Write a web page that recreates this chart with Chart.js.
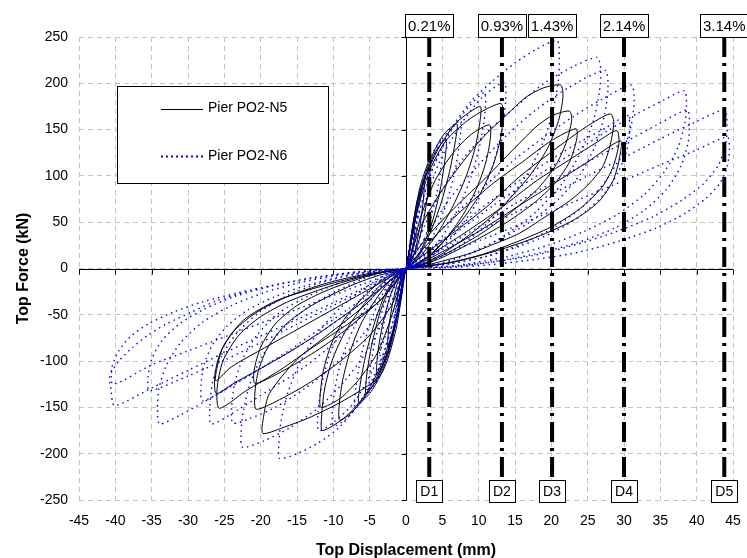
<!DOCTYPE html>
<html lang="en">
<head>
    <meta charset="utf-8" />
    <title>Pier PO2 hysteresis</title>
    <style>
        html, body { margin: 0; padding: 0; background: #fff; }
        #chartBox { width: 747px; height: 558px; }
    </style>
</head>
<body>
    <div id="chartBox">
        <canvas id="pierChart" width="747" height="558"></canvas>
    </div>
    <script src="https://cdn.jsdelivr.net/npm/chart.js"></script>
    <script>
        // drift markers (mm) and their labels
        var driftX = [3.2, 13.2, 20.1, 30.0, 43.8];
        var driftLabels = ['0.21%', '0.93%', '1.43%', '2.14%', '3.14%'];
        var stageLabels = ['D1', 'D2', 'D3', 'D4', 'D5'];
        var driftTop = 250;
        var driftBottom = -226;

        var xMin = -45, xMax = 45, xStep = 5;
        var yMin = -250, yMax = 250, yStep = 50;

        var seriesNames = ['Pier PO2-N5', 'Pier PO2-N6'];

        // Pier PO2-N5 cycles, [displacement mm, force kN]
        var pierN5 = [
            [[0.2,8],[0.6,25],[1.2,45],[1.1,30],[0.7,12],[0.2,2],[0,0],[-0.2,-7],[-0.6,-22],[-1.2,-40],[-1.1,-27],[-0.7,-10],[-0.2,-2],[0,0]],
            [[0.3,12],[0.9,45],[1.6,75],[2.5,95],[2.4,75],[1.9,45],[1.2,18],[0.4,3],[0,0],[-0.3,-10],[-0.9,-40],[-1.6,-66],[-2.5,-85],[-2.4,-66],[-1.9,-40],[-1.2,-16],[-0.4,-3],[0,0]],
            [[0.3,12],[1,50],[2,90],[3.3,118],[3.2,95],[2.6,60],[1.7,28],[0.6,6],[0,0],[-0.3,-12],[-1.2,-50],[-2.5,-90],[-4,-115],[-3.9,-92],[-3.2,-60],[-2.1,-28],[-0.8,-6],[0,0]],
            [[0.3,10],[1.2,50],[2.5,95],[4,125],[5.5,140],[5.4,120],[4.7,85],[3.6,50],[2.2,22],[0.8,5],[0,0],[-0.3,-10],[-1.2,-48],[-2.5,-90],[-4,-120],[-5.5,-135],[-5.4,-115],[-4.7,-82],[-3.6,-48],[-2.2,-20],[-0.8,-4],[0,0]],
            [[0.3,8],[1,45],[2,85],[3.5,120],[5.2,145],[7,156],[6.8,138],[6,105],[4.8,70],[3.3,38],[1.8,14],[0.5,2],[0,0],[-0.3,-6],[-1,-40],[-2,-80],[-3.5,-115],[-5,-135],[-6.5,-145],[-6.3,-125],[-5.5,-92],[-4.3,-58],[-3,-30],[-1.5,-10],[0,0]],
            [[0.3,10],[1.2,50],[2.5,95],[4.5,130],[7,158],[10.2,175],[10.2,160],[9.5,130],[8.3,100],[6.5,68],[4.5,40],[2.5,18],[1,5],[0,0],[-0.3,-10],[-1.2,-48],[-2.5,-90],[-4.5,-125],[-6.8,-150],[-9.1,-164],[-9.2,-148],[-8.7,-120],[-7.7,-90],[-6.2,-60],[-4.3,-35],[-2.3,-14],[-0.8,-3],[0,0]],
            [[0.3,12],[1.5,60],[3.2,105],[5.5,138],[8.5,160],[11,172],[13.1,178],[13.4,165],[13,140],[12,112],[10.3,82],[8,55],[5.5,32],[3,13],[1,3],[0,0],[-0.3,-12],[-1.5,-58],[-3.2,-100],[-5.5,-135],[-8.3,-160],[-11.5,-175],[-11.6,-158],[-11.2,-130],[-10.2,-100],[-8.5,-70],[-6.2,-43],[-3.8,-20],[-1.5,-5],[0,0]],
            [[0.5,10],[2,55],[4,95],[6.5,125],[9,145],[11.5,155],[11.6,140],[11,115],[9.8,88],[8,60],[5.8,35],[3.5,15],[1.2,3],[0,0],[-0.5,-10],[-2,-52],[-4,-92],[-6.5,-120],[-9,-140],[-11.7,-150],[-11.8,-135],[-11.3,-108],[-10.2,-80],[-8.5,-55],[-6,-32],[-3.5,-14],[-1.2,-3],[0,0]],
            [[0.5,10],[2,45],[5,85],[8.7,124],[11,145],[14,167],[16.5,185],[18.9,195],[21.3,198],[21.6,185],[21,160],[19.5,130],[17,100],[13,65],[9,38],[5,16],[2,4],[0,0],[-0.5,-25],[-1.5,-70],[-3.5,-115],[-8,-140],[-13,-160],[-17,-172],[-19.7,-178],[-19.6,-160],[-18.8,-135],[-15.1,-99],[-10.5,-70],[-6,-42],[-2.7,-16],[0,0]],
            [[0.5,8],[3,35],[7,68],[11,98],[14.2,124],[17.9,153],[20.1,165],[22.5,170],[22.8,160],[22,135],[20.5,110],[18,85],[14,58],[10,36],[6,18],[2.5,5],[0,0],[-0.5,-10],[-2,-40],[-5,-72],[-9,-100],[-13,-122],[-17,-140],[-20.6,-152],[-20.8,-135],[-20.3,-110],[-19,-85],[-16.5,-60],[-13,-40],[-8,-20],[-4,-8],[0,0]],
            [[0.5,5],[4,35],[8,65],[12,92],[16,115],[20,138],[23.4,151],[23.5,140],[22.5,115],[20.5,92],[17.5,70],[13.5,48],[9,28],[5,12],[2,3],[0,0],[-0.5,-6],[-3,-30],[-7,-58],[-11,-82],[-15,-102],[-18.5,-117],[-20.8,-124],[-20.9,-110],[-20,-85],[-18,-60],[-15,-40],[-11,-24],[-6,-10],[-2,-2],[0,0]],
            [[0.5,3],[3,18],[6.4,38],[11,66],[15.6,99],[20.2,127],[24.8,153],[28.1,167],[28.6,158],[28,130],[27,109],[25,90],[22.5,73],[19,55],[15.6,38],[12,26],[8.7,16],[5,8],[2,2],[0,0],[-0.5,-4],[-3.6,-35],[-8,-60],[-12.8,-85],[-17.4,-110],[-22,-132],[-25.7,-151],[-26,-130],[-25.2,-100],[-23,-72],[-20,-52],[-16,-35],[-10,-18],[-5,-7],[0,0]],
            [[1,3],[4,18],[8,38],[13,65],[18,95],[22,115],[26,135],[29,149],[29.3,135],[28.5,110],[27,88],[24,65],[20,45],[15,28],[10,14],[5,5],[0,0],[-1,-5],[-4,-25],[-8,-48],[-12,-70],[-16,-90],[-20,-108],[-23.5,-123],[-26.1,-135],[-26.3,-115],[-25.5,-90],[-23.5,-66],[-20.5,-47],[-16.5,-31],[-11,-16],[-5.5,-6],[0,0]],
            [[1,2],[5,18],[10,40],[15,65],[20,90],[25,115],[29.5,138],[29.4,120],[28.5,95],[26.5,72],[23,52],[18,34],[12,18],[6,6],[0,0],[-1,-4],[-5,-22],[-10,-44],[-15,-66],[-20,-88],[-24,-106],[-26.2,-121],[-25.2,-85],[-22.4,-56],[-17.9,-35],[-12,-20],[-6,-8],[0,0]]
        ];

        // Pier PO2-N6 cycles, [displacement mm, force kN]
        var pierN6 = [
            [[0.2,10],[0.7,35],[1.5,60],[1.4,40],[0.9,17],[0.3,3],[0,0],[-0.2,-9],[-0.7,-32],[-1.5,-55],[-1.4,-36],[-0.9,-15],[-0.3,-3],[0,0]],
            [[0.3,12],[1,48],[2,82],[3,105],[2.9,82],[2.3,48],[1.4,18],[0.4,3],[0,0],[-0.3,-12],[-1.1,-48],[-2.2,-80],[-3.5,-100],[-3.4,-78],[-2.7,-46],[-1.6,-18],[-0.5,-3],[0,0]],
            [[0.3,12],[1.2,55],[2.5,100],[3.7,125],[5,140],[4.9,115],[4.2,80],[3.1,45],[1.8,17],[0.5,3],[0,0],[-0.3,-12],[-1.2,-52],[-2.5,-95],[-3.7,-118],[-5,-130],[-4.9,-108],[-4.2,-75],[-3.1,-42],[-1.8,-16],[-0.5,-3],[0,0]],
            [[0.4,12],[1.5,58],[3,105],[5,140],[7.5,160],[7.4,138],[6.6,100],[5.2,62],[3.4,30],[1.5,8],[0,0],[-0.4,-12],[-1.5,-55],[-3,-100],[-5,-132],[-7,-150],[-6.9,-128],[-6.1,-92],[-4.8,-56],[-3.1,-26],[-1.3,-6],[0,0]],
            [[0.4,10],[1.8,60],[3.8,110],[6.3,150],[8.7,175],[10.8,190],[10.9,170],[10.2,135],[9,100],[7.2,65],[5,35],[2.6,12],[0.8,2],[0,0],[-0.4,-10],[-1.8,-58],[-3.6,-105],[-6,-142],[-8.2,-162],[-10,-170],[-10.1,-150],[-9.5,-118],[-8.3,-85],[-6.6,-55],[-4.5,-30],[-2.3,-10],[-0.7,-2],[0,0]],
            [[0.5,10],[2.2,60],[4.6,115],[7.5,155],[10.5,185],[13.5,201],[13.7,180],[13.1,145],[11.8,108],[9.8,72],[7.2,42],[4.3,18],[1.6,4],[0,0],[-0.5,-10],[-2.2,-58],[-4.5,-108],[-7.2,-145],[-9.8,-165],[-12,-175],[-12.1,-155],[-11.5,-122],[-10.3,-88],[-8.4,-57],[-5.9,-30],[-3.2,-11],[-1,-2],[0,0]],
            [[0.5,15],[1.8,60],[3.5,105],[6,148],[9,181],[12,203],[15,222],[18,237],[20.8,246],[21.1,228],[21,205],[20.2,170],[18.8,135],[16.5,100],[13.5,68],[10,40],[6.5,20],[3,6],[0,0],[-0.5,-15],[-1.8,-58],[-3.5,-100],[-6,-140],[-9,-170],[-12,-188],[-15,-200],[-17.4,-205],[-17.5,-190],[-17.2,-165],[-16.3,-135],[-14.5,-100],[-12,-68],[-9,-42],[-5.5,-20],[-2.5,-6],[0,0]],
            [[0.5,8],[2.5,45],[5,85],[8,120],[11.5,150],[15,174],[19,200],[23,218],[26.3,228],[26.8,215],[26.6,190],[25.8,160],[24,125],[21.5,92],[18,62],[14,38],[9.5,18],[5,6],[1.5,1],[0,0],[-0.5,-8],[-2.5,-45],[-5,-85],[-8.5,-122],[-12,-150],[-16,-172],[-19.5,-186],[-22.5,-193],[-22.7,-178],[-22.4,-155],[-21.5,-125],[-19.8,-95],[-17,-65],[-13.5,-42],[-9.5,-24],[-5.5,-10],[-2,-2],[0,0]],
            [[0.5,6],[3,38],[6,75],[10,112],[14,145],[18,172],[22.5,196],[27.4,214],[27.8,195],[27.3,165],[26,132],[24,102],[21,75],[17,50],[12.5,30],[8,14],[4,4],[0,0],[-0.5,-6],[-3,-38],[-6,-72],[-10,-105],[-14,-130],[-18,-150],[-21.5,-162],[-23.8,-167],[-24,-150],[-23.6,-125],[-22.5,-98],[-20.5,-72],[-17.5,-48],[-13.5,-30],[-9,-15],[-4.5,-5],[0,0]],
            [[0.5,3],[4,25],[8,50],[12,75],[16,97],[20,118],[24,137],[27.5,152],[30.5,165],[30.8,150],[30.4,128],[29.2,104],[27.2,80],[24.2,58],[20.5,40],[16,25],[11,13],[6,5],[2,1],[0,0],[-0.5,-3],[-4,-25],[-8,-48],[-12,-70],[-16,-90],[-20,-108],[-24,-126],[-28,-143],[-28.2,-126],[-27.8,-104],[-26.6,-82],[-24.6,-62],[-21.8,-45],[-18.2,-31],[-14,-19],[-9.5,-10],[-5,-4],[-1.5,-1],[0,0]],
            [[0.5,4],[3.5,30],[7,60],[11,90],[15,118],[19,142],[23,164],[27,183],[31,198],[31.4,182],[31,155],[29.8,125],[27.5,95],[24.5,68],[20.5,45],[16,27],[11,13],[6,5],[2,1],[0,0],[-0.5,-4],[-3.5,-30],[-7,-58],[-11,-88],[-15,-112],[-19,-132],[-23,-152],[-26.8,-168],[-27,-150],[-26.6,-122],[-25.4,-95],[-23.3,-70],[-20.3,-48],[-16.5,-30],[-12,-16],[-7,-6],[-2.5,-1],[0,0]],
            [[0.5,3],[4,22],[8,45],[12,68],[16,90],[20,110],[24,130],[28,150],[32,168],[35.5,182],[38.3,192],[38.6,178],[38.4,158],[37.5,132],[35.6,105],[32.8,80],[29,58],[24.5,40],[19.5,25],[14,13],[8.5,5],[3.5,1],[0,0],[-0.5,-3],[-4,-22],[-8,-44],[-12,-66],[-16,-88],[-20,-108],[-24,-127],[-28,-145],[-31,-158],[-33.9,-168],[-34.2,-152],[-34,-130],[-33,-105],[-31,-80],[-28,-58],[-24,-40],[-19.5,-26],[-14.5,-15],[-9,-7],[-4,-2],[0,0]],
            [[1,3],[5,22],[10,45],[15,70],[20,92],[25,115],[30,136],[34.5,155],[38.7,171],[39,155],[38.8,135],[37.8,110],[35.8,85],[32.8,63],[28.8,44],[24,29],[18.5,17],[12.5,8],[6.5,2],[0,0],[-1,-3],[-5,-20],[-10,-40],[-15,-60],[-20,-80],[-25,-99],[-30,-116],[-35.3,-132],[-35.5,-118],[-35,-98],[-33.6,-78],[-31.2,-60],[-27.8,-44],[-23.5,-30],[-18.5,-19],[-13,-10],[-7,-4],[-2,-1],[0,0]],
            [[1,3],[5,20],[10,40],[15,60],[20,80],[25,100],[30,120],[35,140],[39.5,157],[43.8,171],[44.2,155],[44,135],[43,112],[41,92],[38,74],[34,56],[29,40],[23.5,26],[17.5,14],[11,6],[5,1],[0,0],[-1,-3],[-5,-18],[-10,-37],[-15,-55],[-20,-73],[-25,-91],[-30,-110],[-35,-129],[-40.1,-148],[-40.6,-130],[-40.8,-117],[-39.5,-100],[-37.6,-85],[-35.5,-72],[-33,-60],[-29.5,-47],[-26.1,-35],[-21.5,-24],[-17,-16],[-11,-8],[-5,-2],[0,0]],
            [[1,2],[6,18],[12,36],[18,55],[24,75],[30,95],[35,112],[40,128],[44.2,142],[44.5,128],[44.2,110],[43.2,92],[41.3,76],[38.5,60],[34.5,44],[29.5,30],[24,18],[18,10],[11.5,4],[5.5,1],[0,0],[-1,-2],[-6,-17],[-12,-35],[-18,-53],[-24,-71],[-30,-89],[-35,-104],[-40.3,-125],[-40.5,-108],[-39.6,-90],[-38,-74],[-35.5,-60],[-32,-47],[-28,-36],[-23,-26],[-17.5,-17],[-11.5,-9],[-5.5,-3],[0,0]]
        ];

        function toPoints(cycles) {
            var pts = [{ x: 0, y: 0 }];
            cycles.forEach(function (cycle) {
                cycle.forEach(function (p) {
                    pts.push({ x: p[0], y: p[1] });
                });
            });
            return pts;
        }

        var fontFamily = '"Liberation Sans", Arial, sans-serif';

        var datasets = [];
        datasets.push({
            label: seriesNames[1],
            data: toPoints(pierN6),
            showLine: true,
            borderColor: '#0000ff',
            borderWidth: 1.4,
            borderDash: [1.5, 4],
            pointRadius: 0,
            tension: 0.25,
            order: 1
        });
        datasets.push({
            label: seriesNames[0],
            data: toPoints(pierN5),
            showLine: true,
            borderColor: '#000000',
            borderWidth: 1,
            pointRadius: 0,
            tension: 0.25,
            order: 2
        });
        driftX.forEach(function (dx, i) {
            datasets.push({
                label: stageLabels[i],
                data: [{ x: dx, y: driftTop }, { x: dx, y: driftBottom }],
                showLine: true,
                borderColor: '#000000',
                borderWidth: 4,
                borderDash: [20, 6, 3, 6],
                pointRadius: 0,
                order: 0
            });
        });

        // draws a bordered label box centred on cx
        function labelBox(ctx, cx, top, w, h, text, font) {
            var left = Math.round(cx - w / 2);
            ctx.fillStyle = '#ffffff';
            ctx.fillRect(left, top, w, h);
            ctx.strokeStyle = '#000000';
            ctx.lineWidth = 1;
            ctx.setLineDash([]);
            ctx.strokeRect(left + 0.5, top + 0.5, w, h);
            ctx.fillStyle = '#000000';
            ctx.font = font;
            ctx.textAlign = 'center';
            ctx.textBaseline = 'middle';
            ctx.fillText(text, cx, top + h / 2 + 1);
        }

        var pierDecor = {
            id: 'pierDecor',
            beforeDatasetsDraw: function (chart) {
                var ctx = chart.ctx, xs = chart.scales.x, ys = chart.scales.y, area = chart.chartArea;
                var x0 = Math.round(xs.getPixelForValue(0)) + 0.5;
                var y0 = Math.round(ys.getPixelForValue(0)) + 0.5;
                ctx.save();
                ctx.strokeStyle = '#000000';
                ctx.lineWidth = 1;
                ctx.beginPath();
                ctx.moveTo(x0, area.top);
                ctx.lineTo(x0, area.bottom);
                ctx.moveTo(area.left, y0);
                ctx.lineTo(area.right, y0);
                ys.ticks.forEach(function (t) {
                    var py = Math.round(ys.getPixelForValue(t.value)) + 0.5;
                    ctx.moveTo(x0 - 5, py);
                    ctx.lineTo(x0, py);
                });
                xs.ticks.forEach(function (t) {
                    var px = Math.round(xs.getPixelForValue(t.value)) + 0.5;
                    ctx.moveTo(px, y0);
                    ctx.lineTo(px, y0 + 5);
                });
                ctx.stroke();
                ctx.restore();
            },
            afterDraw: function (chart) {
                var ctx = chart.ctx, xs = chart.scales.x, area = chart.chartArea;
                ctx.save();
                driftX.forEach(function (dx, i) {
                    var px = xs.getPixelForValue(dx);
                    labelBox(ctx, px, area.top - 23, 48, 23, driftLabels[i], '15px ' + fontFamily);
                    labelBox(ctx, px, area.bottom - 20, 26, 22, stageLabels[i], '14px ' + fontFamily);
                });

                // legend box
                var lx = area.left + 38, ly = area.top + 49;
                ctx.fillStyle = '#ffffff';
                ctx.fillRect(lx, ly, 211, 97);
                ctx.strokeStyle = '#000000';
                ctx.lineWidth = 1;
                ctx.strokeRect(lx + 0.5, ly + 0.5, 211, 97);
                var rows = [
                    { ds: chart.data.datasets[1], y: ly + 22.5 },
                    { ds: chart.data.datasets[0], y: ly + 70 }
                ];
                rows.forEach(function (r) {
                    ctx.beginPath();
                    ctx.strokeStyle = r.ds.borderColor;
                    ctx.lineWidth = r.ds.borderWidth === 1 ? 1 : 2;
                    ctx.setLineDash(r.ds.borderDash ? [2, 3] : []);
                    ctx.moveTo(lx + 44, Math.round(r.y) + 0.5);
                    ctx.lineTo(lx + 86, Math.round(r.y) + 0.5);
                    ctx.stroke();
                    ctx.setLineDash([]);
                    ctx.fillStyle = '#000000';
                    ctx.font = '14px ' + fontFamily;
                    ctx.textAlign = 'left';
                    ctx.textBaseline = 'middle';
                    ctx.fillText(r.ds.label, lx + 91, r.y);
                });
                ctx.restore();
            }
        };

        var ctx = document.getElementById('pierChart').getContext('2d');
        var pierChart = new Chart(ctx, {
            type: 'scatter',
            data: { datasets: datasets },
            options: {
                responsive: false,
                animation: false,
                devicePixelRatio: 1,
                layout: { padding: { top: 37, right: 14, left: 0, bottom: 0 } },
                plugins: {
                    legend: { display: false },
                    tooltip: { enabled: false }
                },
                scales: {
                    x: {
                        type: 'linear',
                        min: xMin,
                        max: xMax,
                        afterFit: function (scale) {
                            scale.height = 58;
                            scale.paddingLeft = 0;
                            scale.paddingRight = 0;
                        },
                        ticks: {
                            stepSize: xStep,
                            padding: 13,
                            color: '#000000',
                            font: { size: 14, family: fontFamily }
                        },
                        grid: { color: '#c4c4c4', lineWidth: 1, drawTicks: false },
                        border: { display: false, dash: [5, 4] },
                        title: {
                            display: true,
                            text: 'Top Displacement (mm)',
                            color: '#000000',
                            padding: { top: 0, bottom: -2 },
                            font: { size: 16, weight: 'bold', family: fontFamily }
                        }
                    },
                    y: {
                        type: 'linear',
                        min: yMin,
                        max: yMax,
                        afterFit: function (scale) {
                            scale.width = 79;
                            scale.paddingTop = 0;
                            scale.paddingBottom = 0;
                        },
                        ticks: {
                            stepSize: yStep,
                            padding: 11,
                            color: '#000000',
                            font: { size: 14, family: fontFamily }
                        },
                        grid: { color: '#c4c4c4', lineWidth: 1, drawTicks: false },
                        border: { display: false, dash: [5, 4] },
                        title: {
                            display: true,
                            text: 'Top Force (kN)',
                            color: '#000000',
                            padding: { top: 14, bottom: 0 },
                            font: { size: 16, weight: 'bold', family: fontFamily }
                        }
                    }
                }
            },
            plugins: [pierDecor]
        });
    </script>
</body>
</html>
